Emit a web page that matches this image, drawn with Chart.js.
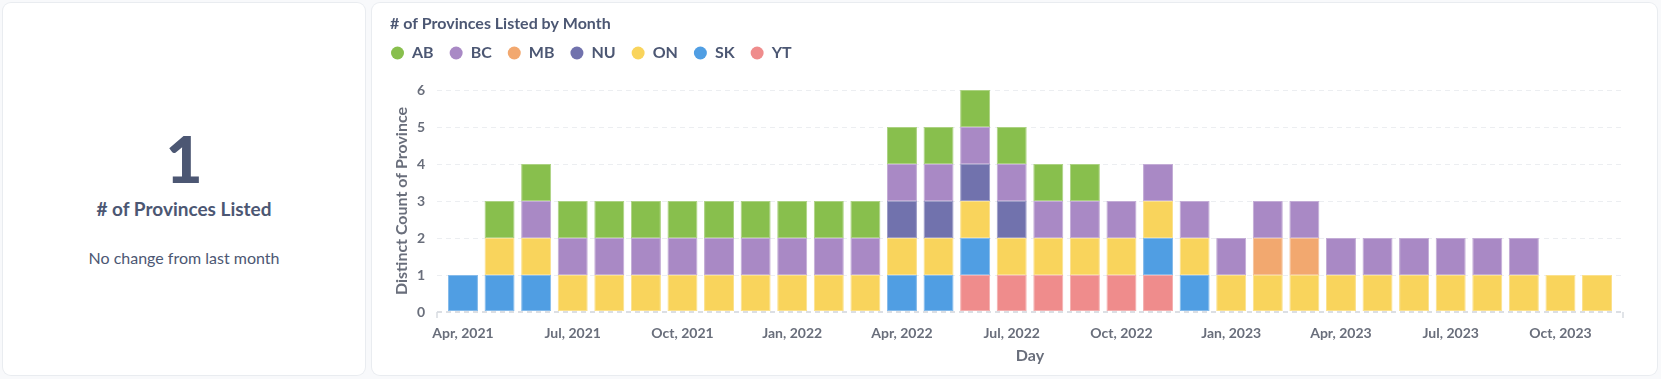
<!DOCTYPE html>
<html>
<head>
<meta charset="utf-8">
<script src="https://cdn.jsdelivr.net/npm/chart.js@4/dist/chart.umd.min.js"></script>
<style>
html,body{margin:0;padding:0;background:#f8f9fb;width:1661px;height:379px;overflow:hidden;font-family:Lato,sans-serif;}
.card{position:absolute;background:#fff;border-radius:8px;box-shadow:0 0 0 1px #e9ecf0;}
#left{left:3px;top:3px;width:362px;height:372px;}
#right{left:372px;top:3px;width:1285px;height:372px;}
.t{position:absolute;left:0;width:100%;text-align:center;color:#4c5773;white-space:nowrap;}
#val{top:124px;font-size:64px;line-height:64px;font-weight:900;}
#lbl{top:196px;font-size:19px;line-height:19px;font-weight:700;}
#sub{top:247px;font-size:16px;line-height:16px;font-weight:400;}
#chart{position:absolute;left:0;top:0;}
</style>
</head>
<body>
<div class="card" id="left">
  <div class="t" id="val">1</div>
  <div class="t" id="lbl"># of Provinces Listed</div>
  <div class="t" id="sub">No change from last month</div>
</div>
<div class="card" id="right">
  <canvas id="chart" width="1285" height="372"></canvas>
</div>
<script>
// Month categories (Apr 2021 .. Nov 2023)
const months = [
  "Apr, 2021","May, 2021","Jun, 2021","Jul, 2021","Aug, 2021","Sep, 2021",
  "Oct, 2021","Nov, 2021","Dec, 2021","Jan, 2022","Feb, 2022","Mar, 2022",
  "Apr, 2022","May, 2022","Jun, 2022","Jul, 2022","Aug, 2022","Sep, 2022",
  "Oct, 2022","Nov, 2022","Dec, 2022","Jan, 2023","Feb, 2023","Mar, 2023",
  "Apr, 2023","May, 2023","Jun, 2023","Jul, 2023","Aug, 2023","Sep, 2023",
  "Oct, 2023","Nov, 2023"
];
// Distinct count per province per month
const AB = [0,1,1,1,1,1,1,1,1,1,1,1,1,1,1,1,1,1,0,0,0,0,0,0,0,0,0,0,0,0,0,0];
const BC = [0,0,1,1,1,1,1,1,1,1,1,1,1,1,1,1,1,1,1,1,1,1,1,1,1,1,1,1,1,1,0,0];
const MB = [0,0,0,0,0,0,0,0,0,0,0,0,0,0,0,0,0,0,0,0,0,0,1,1,0,0,0,0,0,0,0,0];
const NU = [0,0,0,0,0,0,0,0,0,0,0,0,1,1,1,1,0,0,0,0,0,0,0,0,0,0,0,0,0,0,0,0];
const ON = [0,1,1,1,1,1,1,1,1,1,1,1,1,1,1,1,1,1,1,1,1,1,1,1,1,1,1,1,1,1,1,1];
const SK = [1,1,1,0,0,0,0,0,0,0,0,0,1,1,1,0,0,0,0,1,1,0,0,0,0,0,0,0,0,0,0,0];
const YT = [0,0,0,0,0,0,0,0,0,0,0,0,0,0,1,1,1,1,1,1,0,0,0,0,0,0,0,0,0,0,0,0];
const yTicks = [0,1,2,3,4,5,6];

const series = {AB, BC, MB, NU, ON, SK, YT};
const stackOrder = ["YT","SK","ON","NU","MB","BC","AB"]; // bottom -> top
const palette = {AB:"#88bf4d", BC:"#a989c5", MB:"#f2a86f", NU:"#7172ad", ON:"#f9d45c", SK:"#509ee3", YT:"#ef8c8c"};

function tint(hex, f) {
  const n = parseInt(hex.slice(1), 16);
  const r = (n >> 16) & 255, g = (n >> 8) & 255, b = n & 255;
  const m = c => Math.round(c + (255 - c) * f);
  return `rgb(${m(r)},${m(g)},${m(b)})`;
}

const TEXT = "#4c5773", AXIS = "#696e7b";

const legendTweak = {
  id: "legendTweak",
  beforeLayout(chart) {
    const lg = chart.legend;
    if (lg && !lg._tweaked) {
      const fit = lg.fit;
      lg.fit = function () { fit.call(this); this.height += 19; };
      lg._tweaked = true;
    }
  },
  afterLayout(chart) {
    const lg = chart.legend;
    if (lg) { lg.left -= 15; lg.right -= 15; }
  }
};

const axisEnds = {
  id: "axisEnds",
  beforeDatasetsDraw(chart) {
    const {ctx, chartArea} = chart;
    ctx.save();
    ctx.strokeStyle = "#d7dbe0";
    ctx.lineWidth = 1.5;
    [chartArea.left, chartArea.right].forEach(x => {
      ctx.beginPath();
      ctx.moveTo(x, chartArea.bottom);
      ctx.lineTo(x, chartArea.bottom + 6);
      ctx.stroke();
    });
    ctx.restore();
  }
};

new Chart(document.getElementById("chart"), {
  type: "bar",
  data: {
    datasets: stackOrder.map(k => ({
      label: k,
      data: series[k].map((v, i) => ({x: i, y: v ? v : null})),
      backgroundColor: palette[k],
      borderColor: tint(palette[k], 0.3),
      borderWidth: 1,
      borderSkipped: false,
      categoryPercentage: 0.82,
      barPercentage: 1
    }))
  },
  plugins: [legendTweak, axisEnds],
  options: {
    responsive: false,
    animation: false,
    layout: {padding: {top: 13, left: 18, right: 34, bottom: 8}},
    plugins: {
      title: {
        display: true,
        text: "# of Provinces Listed by Month",
        align: "start",
        color: TEXT,
        font: {family: "Lato", size: 16, weight: "bold", lineHeight: 1},
        padding: {top: 0, bottom: -3}
      },
      legend: {
        display: true,
        position: "top",
        align: "start",
        reverse: true,
        labels: {
          usePointStyle: true,
          pointStyle: "circle",
          pointStyleWidth: 13,
          boxWidth: 13,
          boxHeight: 9.2,
          padding: 16,
          color: TEXT,
          font: {family: "Lato", size: 16, weight: "bold"},
          generateLabels: chart => Chart.defaults.plugins.legend.labels.generateLabels(chart)
            .map(l => Object.assign(l, {lineWidth: 0, strokeStyle: l.fillStyle}))
        }
      },
      tooltip: {enabled: false}
    },
    scales: {
      x: {
        type: "linear",
        stacked: true,
        min: -0.71,
        max: 31.71,
        offset: false,
        grid: {display: false},
        border: {display: false},
        ticks: {
          stepSize: 3,
          includeBounds: false,
          autoSkip: false,
          maxRotation: 0,
          padding: 5,
          color: AXIS,
          font: {family: "Lato", size: 14, weight: "bold"},
          callback: v => (months[v] !== undefined ? months[v] : "")
        },
        title: {
          display: true,
          text: "Day",
          color: AXIS,
          font: {family: "Lato", size: 16, weight: "bold"},
          padding: {top: 0, bottom: 2}
        },
        afterFit: s => { s.height = 55; }
      },
      y: {
        stacked: true,
        min: 0,
        max: 6,
        afterBuildTicks: s => { s.ticks = yTicks.map(v => ({value: v})); },
        grid: {
          drawTicks: false,
          color: c => (c.tick && c.tick.value === 0 ? "#dcdfe4" : "#eceef1"),
          lineWidth: c => (c.tick && c.tick.value === 0 ? 2 : 1)
        },
        border: {display: false, dash: [5, 4]},
        ticks: {
          padding: 12,
          color: AXIS,
          font: {family: "Lato", size: 14, weight: "bold"}
        },
        title: {
          display: true,
          text: "Distinct Count of Province",
          color: AXIS,
          font: {family: "Lato", size: 16, weight: "bold"},
          padding: {top: 2, bottom: 0}
        },
        afterFit: s => { s.width = 47; }
      }
    }
  }
});
</script>
</body>
</html>
